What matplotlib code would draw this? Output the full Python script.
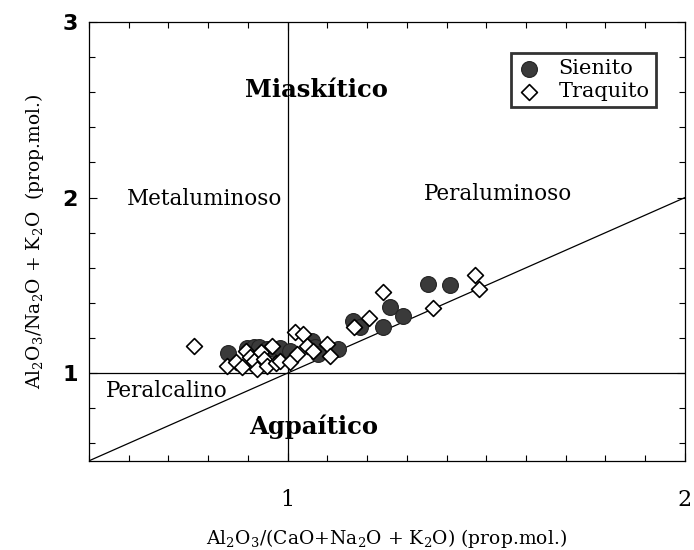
import matplotlib
matplotlib.use("Agg")
import matplotlib.pyplot as plt
from matplotlib.ticker import MultipleLocator, FixedLocator

plt.rcParams['font.family'] = ['DejaVu Serif']
plt.rcParams['mathtext.fontset'] = 'dejavuserif'

# Sienito (filled circles)
sien_x = [0.851, 0.899, 0.915, 0.929, 0.949, 0.965, 0.980, 1.005, 1.061, 1.070, 1.076,
          1.127, 1.165, 1.182, 1.241, 1.258, 1.291, 1.354, 1.410]
sien_y = [1.114, 1.145, 1.150, 1.150, 1.140, 1.135, 1.145, 1.125, 1.182, 1.150, 1.110,
          1.136, 1.295, 1.261, 1.261, 1.375, 1.324, 1.506, 1.500]

# Traquito (open diamonds)
traq_x = [0.765, 0.848, 0.871, 0.886, 0.896, 0.905, 0.916, 0.922, 0.934, 0.942, 0.949,
          0.962, 0.970, 0.980, 1.005, 1.018, 1.023, 1.038, 1.048, 1.063, 1.099, 1.106,
          1.167, 1.205, 1.241, 1.367, 1.471, 1.481]
traq_y = [1.153, 1.040, 1.063, 1.034, 1.125, 1.090, 1.068, 1.023, 1.119, 1.080, 1.040,
          1.153, 1.060, 1.068, 1.063, 1.233, 1.108, 1.222, 1.153, 1.125, 1.165, 1.100,
          1.261, 1.313, 1.460, 1.369, 1.557, 1.477]

fig = plt.figure(figsize=(6.94, 5.5), dpi=100)
ax = fig.add_axes([0.128, 0.162, 0.859, 0.798])

ax.axvline(1, color='black', lw=0.9, zorder=1)
ax.axhline(1, color='black', lw=0.9, zorder=1)
ax.plot([0.5, 2], [0.5, 2], color='black', lw=0.9, zorder=1)

ax.scatter(sien_x, sien_y, s=130, marker='o', facecolor='#3a3a3a',
           edgecolor='#222222', lw=0.8, zorder=3, label='Sienito')
ax.scatter(traq_x, traq_y, s=65, marker='D', facecolor='white',
           edgecolor='black', lw=1.2, zorder=4, label='Traquito')

ax.set_xlim(0.5, 2)
ax.set_ylim(0.5, 3)
ax.xaxis.set_major_locator(FixedLocator([1, 2]))
ax.xaxis.set_minor_locator(MultipleLocator(0.1))
ax.yaxis.set_major_locator(FixedLocator([1, 2, 3]))
ax.yaxis.set_minor_locator(MultipleLocator(0.2))
ax.tick_params(which='both', direction='in', top=True, right=True, width=0.8)
ax.tick_params(which='major', length=6, labelsize=16)
ax.tick_params(which='minor', length=4)
ax.tick_params(axis='x', pad=20)
ax.tick_params(axis='y', pad=8)
for t in ax.get_yticklabels():
    t.set_fontweight('bold')
    t.set_family('DejaVu Sans')
for s in ax.spines.values():
    s.set_linewidth(0.9)

ax.set_xlabel(r'Al$_2$O$_3$/(CaO+Na$_2$O + K$_2$O) (prop.mol.)', fontsize=13.5, labelpad=12)
ax.set_ylabel(r'Al$_2$O$_3$/Na$_2$O + K$_2$O  (prop.mol.)', fontsize=13.5, labelpad=12)

ax.text(1.072, 2.61, 'Miaskítico', fontsize=17.5, fontweight='bold', ha='center', va='center')
ax.text(1.065, 0.693, 'Agpaítico', fontsize=17.5, fontweight='bold', ha='center', va='center')
ax.text(0.79, 1.99, 'Metaluminoso', fontsize=15.5, ha='center', va='center')
ax.text(1.529, 2.02, 'Peraluminoso', fontsize=15.5, ha='center', va='center')
ax.text(0.697, 0.898, 'Peralcalino', fontsize=15.5, ha='center', va='center')

leg = ax.legend(loc='upper right', bbox_to_anchor=(0.951, 0.93), fontsize=15,
                frameon=True, fancybox=False, handletextpad=0.8, borderpad=0.3,
                labelspacing=0.2, handlelength=1.2, borderaxespad=0)
leg.get_frame().set_edgecolor('black')
leg.get_frame().set_linewidth(2)

fig.savefig('out.png', dpi=100)
